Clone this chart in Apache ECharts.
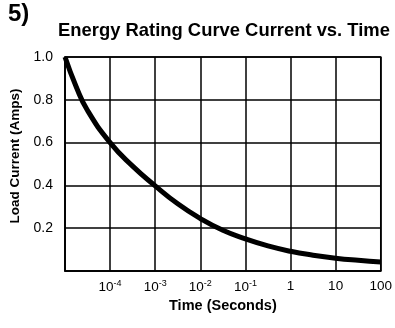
<!DOCTYPE html>
<html>
<head>
<meta charset="utf-8">
<script src="https://cdn.jsdelivr.net/npm/echarts@6/dist/echarts.min.js"></script>
<style>html,body{margin:0;padding:0;background:#fff}#c{width:395px;height:328px}</style>
</head>
<body>
<div id="c"></div>
<script>
var times = [1e-5, 1.78e-5, 3.16e-5, 1e-4, 3.16e-4, 1e-3, 3.16e-3, 1e-2, 3.16e-2, 0.1, 0.316, 1, 3.16, 10, 31.6, 100];
var currents = [1.0, 0.86, 0.75, 0.6, 0.49, 0.398, 0.314, 0.245, 0.19, 0.15, 0.117, 0.092, 0.074, 0.06, 0.05, 0.042];
var xTickLabels = {'-4':'10{s|-4}','-3':'10{s|-3}','-2':'10{s|-2}','-1':'10{s|-1}','0':'1','1':'10','2':'100'};
var yTickLabels = ['0.2','0.4','0.6','0.8','1.0'];

var chart = echarts.init(document.getElementById('c'));
var F = 'Liberation Sans, Arial, sans-serif';
chart.setOption({
  animation: false,
  title: {
    text: 'Energy Rating Curve Current vs. Time',
    left: 219, textAlign: 'center', top: 17,
    textStyle: {fontFamily: F, fontWeight: 'bold', fontSize: 18.4, color: '#000'}
  },
  graphic: [
    {type: 'text', left: 8, top: 2, style: {text: '5)', font: 'bold 24px ' + F, fill: '#000'}},
    {type: 'text', x: 15, y: 156, rotation: Math.PI / 2,
     style: {text: 'Load Current (Amps)', font: 'bold 13.5px ' + F, fill: '#000', align: 'center', verticalAlign: 'middle'}}
  ],
  grid: {left: 65, right: 10, top: 57, bottom: 57, show: true, borderColor: '#000', borderWidth: 1.5},
  xAxis: {
    type: 'log', logBase: 10, min: 1e-5, max: 100,
    name: 'Time (Seconds)', nameLocation: 'middle', nameGap: 27,
    nameTextStyle: {fontFamily: F, fontWeight: 'bold', fontSize: 14.5, color: '#000'},
    axisLine: {show: true, lineStyle: {color: '#000', width: 1.5}},
    axisTick: {show: false},
    splitLine: {show: true, lineStyle: {color: '#000', width: 1.5}},
    axisLabel: {
      margin: 8, color: '#000', fontFamily: F, fontSize: 13.5,
      formatter: function (v) {
        var e = Math.round(Math.log10(v));
        return xTickLabels[String(e)] || '';
      },
      rich: {s: {fontSize: 9, fontFamily: F, color: '#000', padding: [0, 0, 7, 0]}}
    }
  },
  yAxis: {
    type: 'value', min: 0, max: 1, interval: 0.2,
    axisLine: {show: true, lineStyle: {color: '#000', width: 1.5}},
    axisTick: {show: false},
    splitLine: {show: true, lineStyle: {color: '#000', width: 1.5}},
    axisLabel: {
      margin: 12, color: '#000', fontFamily: F, fontSize: 14,
      formatter: function (v) {
        var i = Math.round(v / 0.2) - 1;
        return i >= 0 ? yTickLabels[i] : '';
      }
    }
  },
  series: [{
    type: 'line',
    data: times.map(function (t, i) { return [t, currents[i]]; }),
    smooth: 0.5,
    showSymbol: false,
    lineStyle: {color: '#000', width: 5}
  }]
});
</script>
</body>
</html>
